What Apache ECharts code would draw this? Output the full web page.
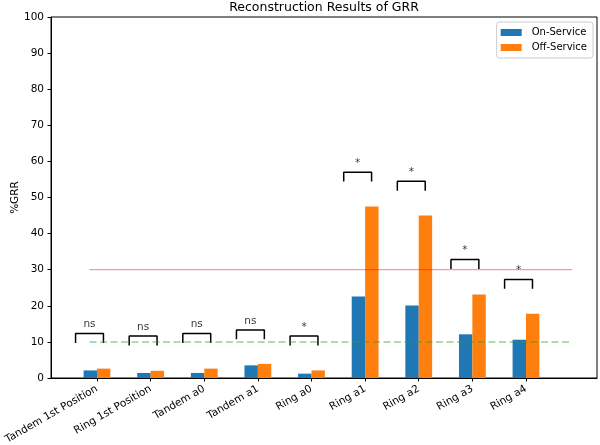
<!DOCTYPE html>
<html>
<head>
<meta charset="utf-8">
<script src="https://cdn.jsdelivr.net/npm/echarts@6/dist/echarts.min.js"></script>
<style>
html, body { margin: 0; padding: 0; background: #fff; }
#main { width: 600px; height: 445px; }
</style>
</head>
<body>
<div id="main"></div>
<script>
var categories = ['Tandem 1st Position', 'Ring 1st Position', 'Tandem a0', 'Tandem a1', 'Ring a0', 'Ring a1', 'Ring a2', 'Ring a3', 'Ring a4'];
var onService = [2.1, 1.4, 1.4, 3.5, 1.2, 22.6, 20.1, 12.1, 10.6];
var offService = [2.6, 2.0, 2.6, 3.9, 2.1, 47.5, 45.0, 23.1, 17.8];
var sigLabels = ['ns', 'ns', 'ns', 'ns', '*', '*', '*', '*', '*'];
var bracketTop = [12.3, 11.6, 12.3, 13.3, 11.6, 57.0, 54.5, 32.8, 27.3];
var limitLine = 30;
var refLine = 10;
var yTicks = [0, 100, 10];

var chartDom = document.getElementById('main');
var myChart = echarts.init(chartDom);
var option;

var font = 'DejaVu Sans';
var legLen = 2.6;        // bracket leg height, in %GRR units
var brLeft = -0.4, brRight = 0.12;

var seriesList = [];

// bars on the category grid
seriesList.push({
    name: 'On-Service', type: 'bar', xAxisIndex: 1, yAxisIndex: 1,
    data: onService, barWidth: 13.4, barGap: '0%',
    itemStyle: { color: '#1f77b4' }
});
seriesList.push({
    name: 'Off-Service', type: 'bar', xAxisIndex: 1, yAxisIndex: 1,
    data: offService, barWidth: 13.4, barGap: '0%',
    itemStyle: { color: '#ff7f0e' }
});

// threshold lines
seriesList.push({
    type: 'line', xAxisIndex: 0, yAxisIndex: 0, symbol: 'none', silent: true, z: 5,
    data: [[-0.14, limitLine], [8.86, limitLine]],
    lineStyle: { color: 'rgba(255,0,0,0.5)', width: 1 }
});
seriesList.push({
    type: 'line', xAxisIndex: 0, yAxisIndex: 0, symbol: 'none', silent: true, z: 5,
    data: [[-0.14, refLine], [8.82, refLine]],
    lineStyle: { color: 'rgba(44,160,44,0.5)', width: 1.5, type: [7, 3.5] }
});

// significance brackets
bracketTop.forEach(function (top, i) {
    seriesList.push({
        type: 'line', xAxisIndex: 0, yAxisIndex: 0, symbol: 'none', silent: true,
        data: [[i + brLeft, top - legLen], [i + brLeft, top], [i + brRight, top], [i + brRight, top - legLen]],
        lineStyle: { color: '#000', width: 1.5 }
    });
});

seriesList.push({
    type: 'scatter', xAxisIndex: 0, yAxisIndex: 0, silent: true,
    symbolSize: 1,
    itemStyle: { color: 'rgba(0,0,0,0)' },
    data: bracketTop.map(function (top, i) { return [i + (brLeft + brRight) / 2, top]; }),
    label: {
        show: true, position: 'top', distance: 3,
        fontFamily: font, fontSize: 10.5, color: '#000',
        formatter: function (p) { return sigLabels[p.dataIndex]; }
    }
});

option = {
    animation: false,
    backgroundColor: '#fff',
    textStyle: { fontFamily: font },
    title: {
        text: 'Reconstruction Results of GRR',
        left: 324, top: 1, padding: 0, textAlign: 'center',
        textStyle: { fontFamily: font, fontSize: 12.5, fontWeight: 'normal', color: '#000' }
    },
    legend: {
        data: ['On-Service', 'Off-Service'],
        orient: 'vertical', right: 7, top: 22,
        icon: 'rect', itemWidth: 21, itemHeight: 7, itemGap: 2,
        padding: [4, 6, 4, 4],
        borderColor: '#ccc', borderWidth: 1, borderRadius: 3,
        backgroundColor: 'rgba(255,255,255,0.8)',
        textStyle: { fontFamily: font, fontSize: 10, color: '#000', lineHeight: 13, padding: [0, 0, 0, 5] }
    },
    grid: [
        { left: 51, right: 3, top: 17, bottom: 67, outerBoundsMode: 'none', containLabel: false,
          show: true, borderColor: '#000', borderWidth: 1, backgroundColor: 'rgba(0,0,0,0)' },
        { left: 70.2, right: 47.2, top: 17, bottom: 67, outerBoundsMode: 'none', containLabel: false }
    ],
    xAxis: [
        {
            type: 'value', gridIndex: 0, min: -0.858, max: 9.323,
            axisLine: { show: true, onZero: false, lineStyle: { color: '#000' } },
            axisTick: { show: false }, axisLabel: { show: false }, splitLine: { show: false }
        },
        {
            type: 'category', gridIndex: 1, data: categories,
            axisLine: { show: false, onZero: false },
            axisTick: { show: true, alignWithLabel: true, length: 3.5, lineStyle: { color: '#000' } },
            axisLabel: { interval: 0, rotate: 30, margin: 10, fontFamily: font, fontSize: 10.5, color: '#000' },
            splitLine: { show: false }
        }
    ],
    yAxis: [
        {
            type: 'value', gridIndex: 0, min: yTicks[0], max: yTicks[1], interval: yTicks[2],
            name: '%GRR', nameLocation: 'middle', nameGap: 30, nameMoveOverlap: false,
            nameTextStyle: { fontFamily: font, fontSize: 10.5, color: '#000' },
            axisLine: { show: true, onZero: false, lineStyle: { color: '#000' } },
            axisTick: { show: true, length: 3.5, lineStyle: { color: '#000' } },
            axisLabel: { margin: 7, fontFamily: font, fontSize: 10.5, color: '#000' },
            splitLine: { show: false }
        },
        { type: 'value', gridIndex: 1, min: yTicks[0], max: yTicks[1], show: false }
    ],
    series: seriesList
};

option && myChart.setOption(option);
</script>
</body>
</html>
